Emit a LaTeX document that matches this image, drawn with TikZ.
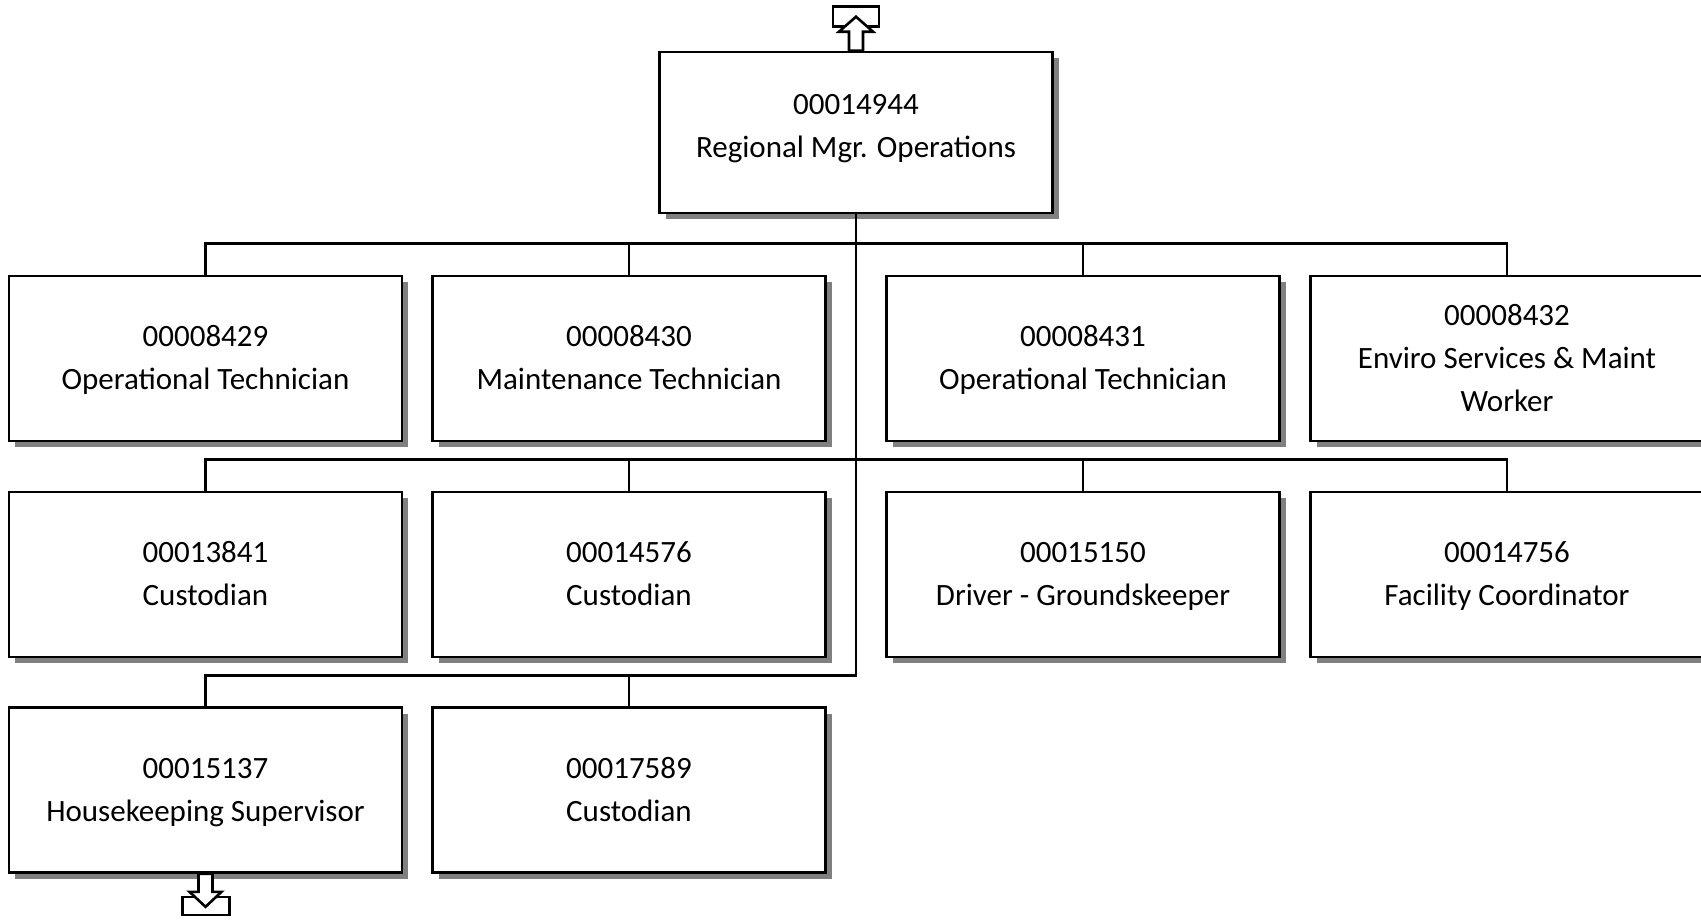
\documentclass[tikz,border=0pt]{standalone}
\usepackage{fontspec}
\setmainfont{Carlito}
\usetikzlibrary{shadows}
\newcommand{\postid}[1]{\rule{0pt}{32pt}#1}
\begin{document}
\begin{tikzpicture}[x=1pt,y=-1pt,
		post/.style={draw,line width=2.6pt,fill=white,minimum width=393pt,minimum height=165pt,inner sep=0pt,align=center,font=\fontsize{31}{43}\selectfont,execute at end node=\strut,drop shadow={shadow xshift=6pt,shadow yshift=-6pt,opacity=1,fill=black!50}},
		link/.style={line width=2.6pt,line join=miter}]
		\clip (0,0) rectangle (1701,919);
		\node[post,minimum height=161pt] (top) at (856,132.5) {\postid{00014944}\\Regional Mgr. Operations\rule[-26pt]{0pt}{0pt}};
		\node[post] (op1) at (205.5,358.5) {\postid{00008429}\\Operational Technician};
		\node[post] (mt) at (629,358.5) {\postid{00008430}\\Maintenance Technician};
		\node[post] (op2) at (1083,358.5) {\postid{00008431}\\Operational Technician};
		\node[post] (env) at (1507,358.5) {\postid{00008432}\\Enviro Services \& Maint\\Worker};
		\node[post] (cu1) at (205.5,574.5) {\postid{00013841}\\Custodian};
		\node[post] (cu2) at (629,574.5) {\postid{00014576}\\Custodian};
		\node[post] (drv) at (1083,574.5) {\postid{00015150}\\Driver - Groundskeeper};
		\node[post] (fac) at (1507,574.5) {\postid{00014756}\\Facility Coordinator};
		\node[post] (hk) at (205.5,790) {\postid{00015137}\\Housekeeping Supervisor};
		\node[post] (cu3) at (629,790) {\postid{00017589}\\Custodian};
		\foreach \n in {op1,mt,op2,env,cu1,cu2,drv,fac,hk,cu3}
			\draw[link] (\n.north) -- ++(0,-31) -| (top.south);
		\draw[link,fill=white] ([xshift=-23pt,yshift=24pt]top.north) rectangle ++(46,-20);
		\draw[link,fill=white] ([xshift=-7pt]top.north) -- ++(0,-19) -- ++(-10,0) -- ++(17,-15) -- ++(17,15) -- ++(-10,0) -- ++(0,19) -- cycle;
		\draw[link,fill=white] ([xshift=-23pt,yshift=-23pt]hk.south) rectangle ++(47,18);
		\draw[link,fill=white] ([xshift=-7pt]hk.south) -- ++(0,18) -- ++(-9,0) -- ++(16,15) -- ++(16,-15) -- ++(-9,0) -- ++(0,-18) -- cycle;
	\end{tikzpicture}
\end{document}
